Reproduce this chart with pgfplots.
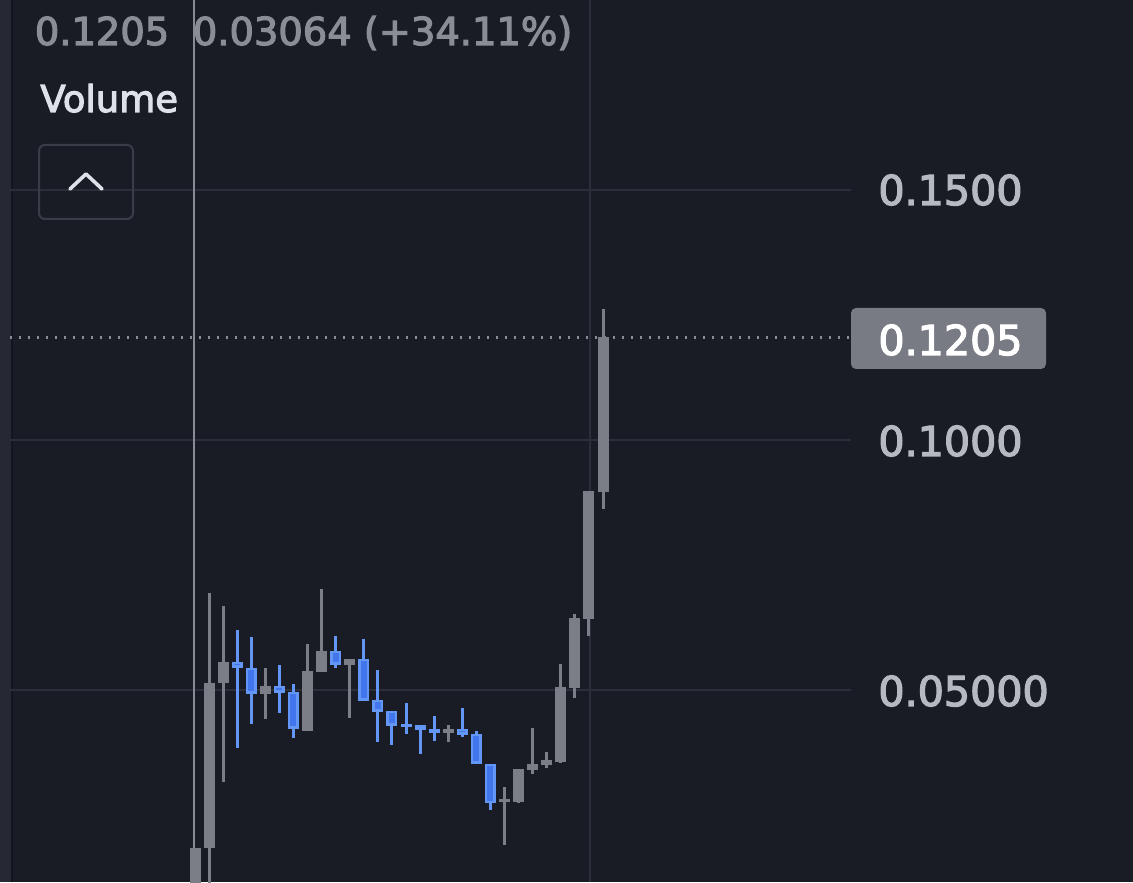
\documentclass[border=0pt]{standalone}
\usepackage{pgfplots}
\usepackage{pgfplotstable}
\pgfplotsset{compat=1.18}
\usepackage{fontspec}
\setmainfont{DejaVu Sans}
\font\labf="DejaVu Sans:embolden=3" at 20.6pt
\font\topf="DejaVu Sans:embolden=3" at 19.2pt
\font\volf="DejaVu Sans:embolden=3" at 18.5pt
\definecolor{bgc}{RGB}{25,27,37}
\definecolor{stripc}{RGB}{38,40,51}
\definecolor{darkline}{RGB}{20,22,30}
\definecolor{gridc}{RGB}{44,47,58}
\definecolor{crossc}{RGB}{136,138,148}
\definecolor{dotc}{RGB}{138,140,150}
\definecolor{upc}{RGB}{123,125,135}
\definecolor{dnout}{RGB}{100,150,245}
\definecolor{dnin}{RGB}{66,118,236}
\definecolor{labc}{RGB}{183,185,194}
\definecolor{topc}{RGB}{139,141,150}
\definecolor{volc}{RGB}{223,225,232}
\definecolor{boxc}{RGB}{58,61,72}
\definecolor{tagc}{RGB}{120,122,132}

\pgfplotstableread{
k o h l c
1 0.0080 0.0184 0.0060 0.0184
2 0.0184 0.0694 0.0090 0.0514
3 0.0514 0.0668 0.0316 0.0556
6 0.0492 0.0544 0.0442 0.0508
9 0.0418 0.0592 0.0418 0.0538
10 0.0536 0.0702 0.0536 0.0578
12 0.0550 0.0562 0.0444 0.0562
19 0.0414 0.0430 0.0396 0.0422
23 0.0276 0.0306 0.0190 0.0282
24 0.0276 0.0342 0.0274 0.0342
25 0.0340 0.0424 0.0332 0.0352
26 0.0350 0.0376 0.0344 0.0360
27 0.0356 0.0552 0.0354 0.0506
28 0.0504 0.0652 0.0484 0.0644
29 0.0642 0.0898 0.0608 0.0898
30 0.0896 0.1262 0.0862 0.1205
}\upcandles

\pgfplotstableread{
k o h l c
4 0.0556 0.0620 0.0384 0.0544
5 0.0544 0.0606 0.0432 0.0492
7 0.0508 0.0550 0.0454 0.0494
8 0.0496 0.0512 0.0404 0.0422
11 0.0578 0.0608 0.0544 0.0550
13 0.0562 0.0602 0.0478 0.0478
14 0.0480 0.0540 0.0396 0.0456
15 0.0458 0.0458 0.0390 0.0428
16 0.0432 0.0474 0.0412 0.0426
17 0.0430 0.0430 0.0372 0.0420
18 0.0422 0.0448 0.0398 0.0414
20 0.0422 0.0464 0.0406 0.0410
21 0.0412 0.0418 0.0352 0.0352
22 0.0352 0.0352 0.0260 0.0274
}\downcandles

\pgfplotsset{candle/.style={draw=none, mark=none, forget plot,
    error bars/.cd, y dir=minus, y explicit, error mark=none}}

\begin{document}
\begin{tikzpicture}
\path[use as bounding box] (0,0) rectangle (566.5pt,441pt);
\fill[bgc] (0,0) rectangle (566.5pt,441pt);
\begin{scope}[x=0.5pt,y=-0.5pt,yshift=441pt]
  \fill[stripc] (0,0) rectangle (11,882);
  \fill[darkline] (11,0) rectangle (13,882);
\end{scope}
\begin{axis}[at={(0,0)}, anchor=south west, scale only axis,
  width=566.5pt, height=441pt,
  xmin=-12.86, xmax=67.67, ymin=0.0116, ymax=0.188,
  axis lines=none, xtick=\empty, ytick=\empty, clip=true]
  % grid lines
  \draw[gridc, line width=1pt] (axis cs:-12.15,0.15) -- (axis cs:47.62,0.15);
  \draw[gridc, line width=1pt] (axis cs:-12.15,0.10) -- (axis cs:47.62,0.10);
  \draw[gridc, line width=1pt] (axis cs:-12.15,0.05) -- (axis cs:47.62,0.05);
  \draw[gridc, line width=1pt] (axis cs:29.07,0.0116) -- (axis cs:29.07,0.188);
  % crosshair
  \draw[crossc, line width=1pt] (axis cs:0.93,0.0116) -- (axis cs:0.93,0.188);
  % last price line
  \draw[dotc, line width=1.2pt, dash pattern=on 1.2pt off 3.3pt] (axis cs:-12.15,0.1205) -- (axis cs:47.62,0.1205);
  % up candles: wicks and bodies
  \addplot[candle, error bar style={draw=upc, line width=1.5pt}]
    table[x=k, y=h, y error minus expr={\thisrow{h}-\thisrow{l}}] {\upcandles};
  \addplot[candle, error bar style={draw=upc, line width=5.5pt}]
    table[x=k, y=c, y error minus expr={\thisrow{c}-\thisrow{o}}] {\upcandles};
  % down candles
  \addplot[candle, error bar style={draw=dnout, line width=1.5pt}]
    table[x=k, y=h, y error minus expr={\thisrow{h}-\thisrow{l}}] {\downcandles};
  \addplot[candle, error bar style={draw=dnout, line width=5.5pt}]
    table[x=k, y=o, y error minus expr={\thisrow{o}-\thisrow{c}}] {\downcandles};
  \addplot[candle, error bar style={draw=dnin, line width=3pt}]
    table[x=k, y expr={\thisrow{o}-0.0005}, y error minus expr={max(\thisrow{o}-\thisrow{c}-0.001,0)}] {\downcandles};
\end{axis}
\begin{scope}[x=0.5pt,y=-0.5pt,yshift=441pt]
  % top info text
  \node[anchor=base west, inner sep=0pt, text=topc, font=\topf] at (34.5,45) {0.1205};
  \node[anchor=base west, inner sep=0pt, text=topc, font=\topf] at (192.5,45) {0.03064 (+34.11\%)};
  \node[anchor=base west, inner sep=0pt, text=volc, font=\volf] at (40,112) {Volume};
  \draw[boxc, line width=1pt, rounded corners=3pt] (39,145) rectangle (133,219);
  \draw[volc, line width=1.8pt, line cap=round, line join=round] (70,189) -- (86,174) -- (102,189);
  % right price labels
  \node[anchor=base west, inner sep=0pt, text=labc, font=\labf] at (878,205) {0.1500};
  \node[anchor=base west, inner sep=0pt, text=labc, font=\labf] at (878,456) {0.1000};
  \node[anchor=base west, inner sep=0pt, text=labc, font=\labf] at (878,706) {0.05000};
  \fill[tagc, rounded corners=2.5pt] (851,308) rectangle (1046,369);
  \node[anchor=base west, inner sep=0pt, text=white, font=\labf] at (878,355) {0.1205};
\end{scope}
\end{tikzpicture}
\end{document}
